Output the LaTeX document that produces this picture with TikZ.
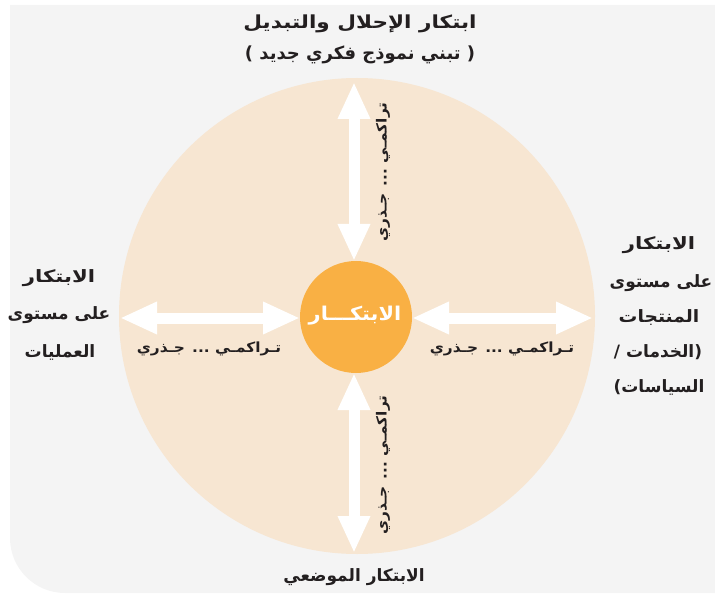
\documentclass[tikz,border=0pt]{standalone}
\usepackage{fontspec}
\usetikzlibrary{arrows.meta}
\TeXXeTstate=1
\newfontfamily\arabicfont[Script=Arabic]{DejaVu Sans}
\definecolor{bgc}{HTML}{F4F4F4}
\definecolor{beige}{HTML}{F7E6D2}
\definecolor{orangec}{HTML}{F9B044}
\definecolor{txt}{HTML}{231F20}
\tikzset{
  bigarrow/.style={draw=white, line width=11pt,
    {Triangle[length=37pt,width=30pt]}-{Triangle[length=37pt,width=30pt]}},
  title/.style={text=txt, font=\arabicfont\bfseries\fontsize{18}{21}\selectfont, inner sep=0pt},
  bottomt/.style={text=txt, font=\arabicfont\bfseries\fontsize{17}{20}\selectfont, inner sep=0pt},
  side/.style={text=txt, font=\arabicfont\bfseries\fontsize{17}{20}\selectfont, inner sep=0pt},
  lbl/.style={text=txt, font=\arabicfont\bfseries\fontsize{14}{17}\selectfont, inner sep=0pt},
  core/.style={text=white, font=\arabicfont\bfseries\fontsize{19}{22}\selectfont, inner sep=0pt}
}
\begin{document}
\begin{tikzpicture}[x=1pt,y=-1pt]
\useasboundingbox (0,0) rectangle (715,596);
% background panel
\fill[bgc] (10,5) -- (715,5) -- (715,593) -- (65,593)
  arc[start angle=90, end angle=180, radius=55] -- cycle;
% big circle
\fill[beige] (357,316) circle[radius=238pt];
% centre circle
\node[circle, fill=orangec, minimum size=112pt, inner sep=0pt] (core) at (356,317) {};
\node[core, xscale=1.1] (coretxt) at (355,316) {\beginR الابتكـــار\endR};
% arrow end points
\coordinate (tA) at (354,82);
\coordinate (tB) at (354,261);
\coordinate (bA) at (354,373);
\coordinate (bB) at (354,553);
\coordinate (lA) at (120,318);
\coordinate (lB) at (300,318);
\coordinate (rA) at (412,318);
\coordinate (rB) at (593,318);
\draw[bigarrow] (tA) -- (tB);
\draw[bigarrow] (bA) -- (bB);
\draw[bigarrow] (lA) -- (lB);
\draw[bigarrow] (rA) -- (rB);
% arrow labels
\node[lbl, xscale=1.1] (ll) at (209,349) {\beginR تـراكمـي ... جـذري\endR};
\node[lbl, xscale=1.1] (rl) at (502,349) {\beginR تـراكمـي ... جـذري\endR};
\node[lbl, rotate=90, xscale=1.1] (tl) at (383,172) {\beginR تراكمـي ... جـذري\endR};
\node[lbl, rotate=90, xscale=1.1] (bl) at (383,465) {\beginR تراكمـي ... جـذري\endR};
% top
\node[title, xscale=1.2] (t1) at (360,24) {\beginR ابتكار الإحلال والتبديل\endR};
\node[title] (t2) at (360,55) {\beginR ( تبني نموذج فكري جديد )\endR};
% bottom
\node[bottomt] (b1) at (354,577) {\beginR الابتكار الموضعي\endR};
% left
\node[side, xscale=1.25] (l1) at (59,278) {\beginR الابتكار\endR};
\node[side] (l2) at (59,315) {\beginR على مستوى\endR};
\node[side] (l3) at (60,352) {\beginR العمليات\endR};
% right
\node[side, xscale=1.25] (r1) at (659,245) {\beginR الابتكار\endR};
\node[side] (r2) at (661,283) {\beginR على مستوى\endR};
\node[side, xscale=1.1] (r3) at (659,318) {\beginR المنتجات\endR};
\node[side] (r4) at (658,352) {\beginR (الخدمات /\endR};
\node[side] (r5) at (659,387) {\beginR السياسات)\endR};
\end{tikzpicture}
\end{document}
